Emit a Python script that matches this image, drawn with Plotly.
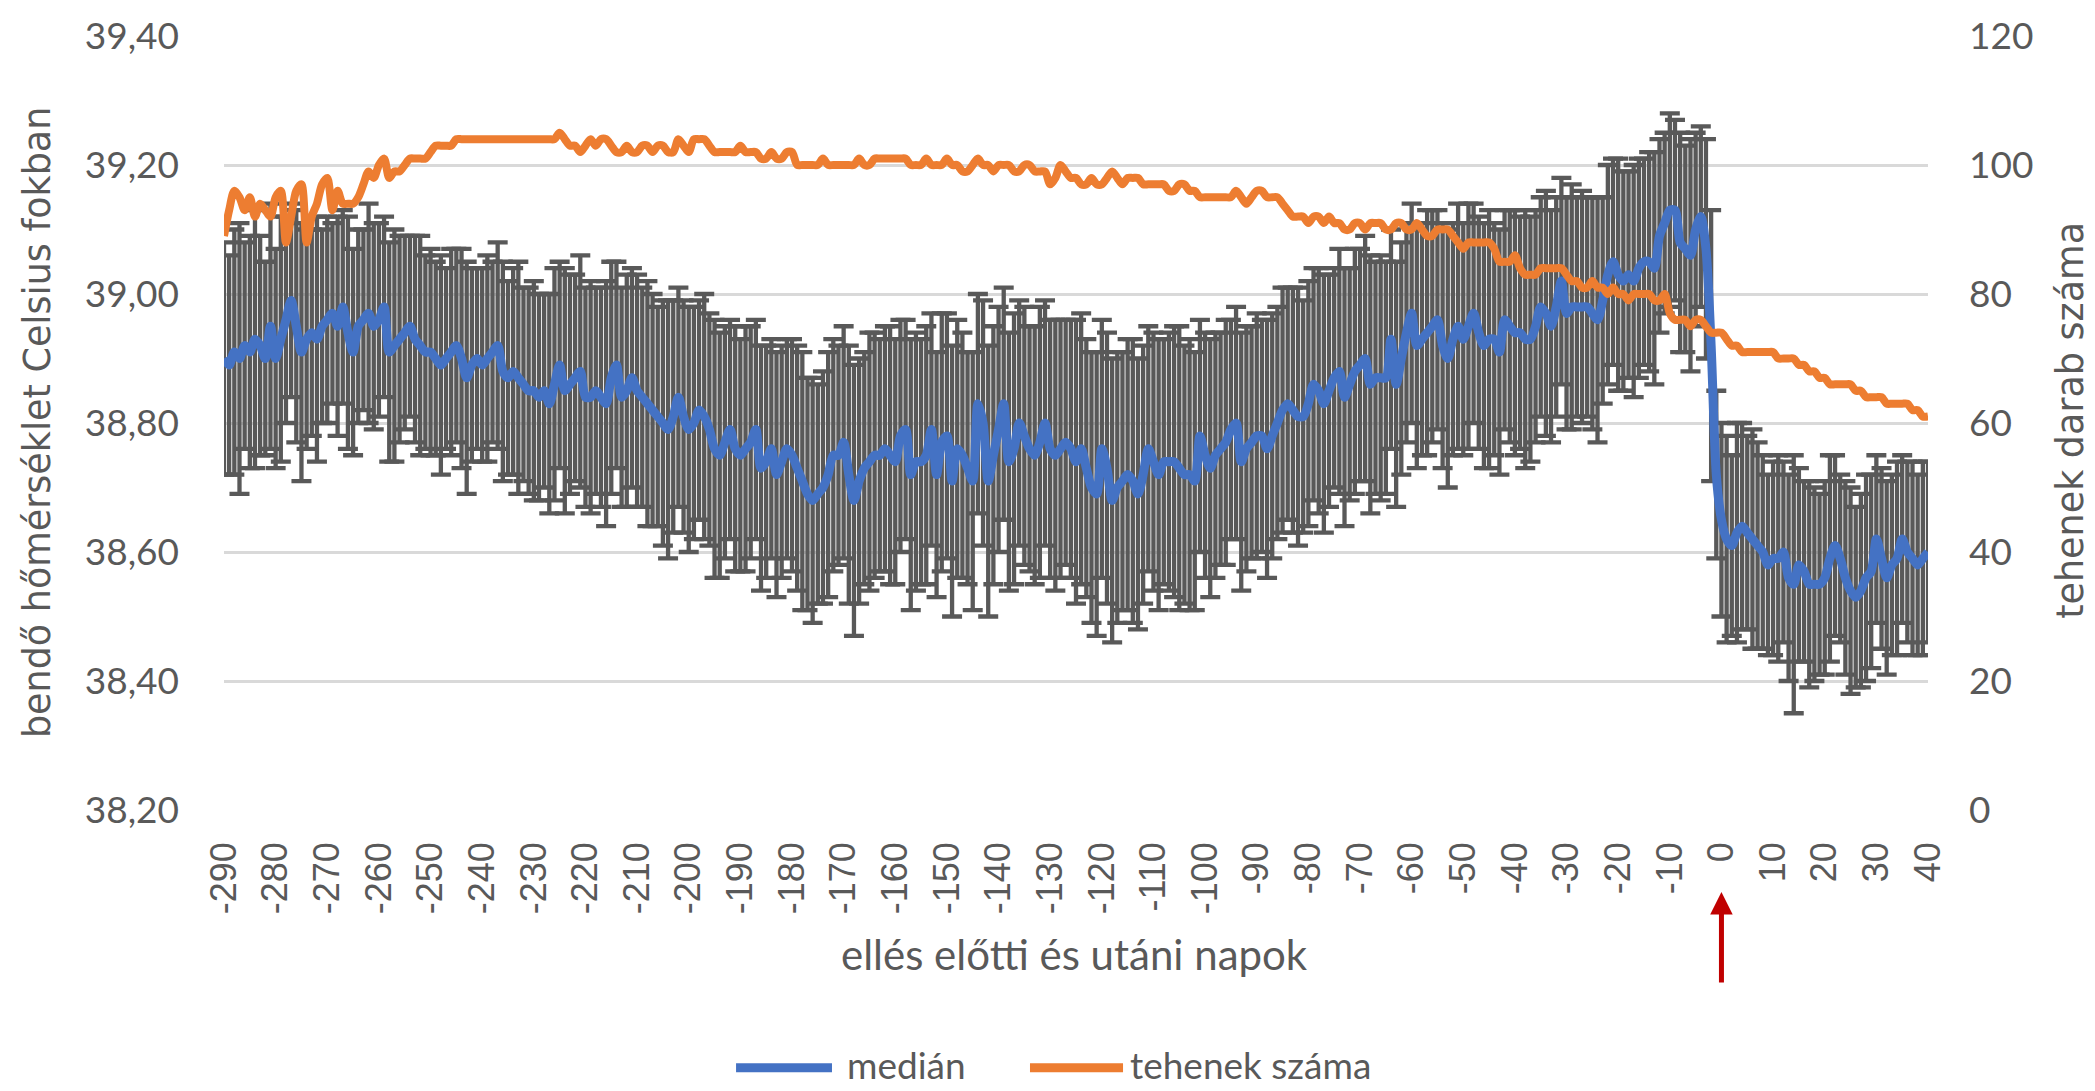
import plotly.graph_objects as go

days = list(range(-290, 41))

median_temp = [
    38.90, 38.89, 38.91, 38.90, 38.92, 38.91, 38.93, 38.92, 38.90, 38.95,
    38.90, 38.93, 38.96, 38.99, 38.95, 38.91, 38.93, 38.94, 38.93, 38.95,
    38.96, 38.97, 38.95, 38.98, 38.94, 38.91, 38.95, 38.96, 38.97, 38.95,
    38.96, 38.98, 38.91, 38.92, 38.93, 38.94, 38.95, 38.93, 38.92, 38.91,
    38.91, 38.90, 38.89, 38.90, 38.91, 38.92, 38.90, 38.87, 38.89, 38.90,
    38.89, 38.90, 38.91, 38.92, 38.88, 38.87, 38.88, 38.87, 38.86, 38.85,
    38.85, 38.84, 38.85, 38.83, 38.86, 38.89, 38.85, 38.86, 38.87, 38.88,
    38.84, 38.84, 38.85, 38.84, 38.83, 38.87, 38.89, 38.84, 38.85, 38.87,
    38.85, 38.84, 38.83, 38.82, 38.81, 38.80, 38.79, 38.81, 38.84, 38.81,
    38.79, 38.80, 38.82, 38.81, 38.79, 38.76, 38.75, 38.77, 38.79, 38.76,
    38.75, 38.76, 38.77, 38.79, 38.73, 38.74, 38.76, 38.72, 38.74, 38.76,
    38.75, 38.73, 38.71, 38.69, 38.68, 38.69, 38.70, 38.72, 38.75, 38.75,
    38.77, 38.72, 38.68, 38.71, 38.73, 38.74, 38.75, 38.75, 38.76, 38.75,
    38.74, 38.78, 38.79, 38.72, 38.74, 38.74, 38.75, 38.79, 38.72, 38.77,
    38.78, 38.71, 38.76, 38.75, 38.73, 38.71, 38.83, 38.80, 38.71, 38.75,
    38.79, 38.83, 38.74, 38.76, 38.80, 38.78, 38.76, 38.75, 38.77, 38.80,
    38.76, 38.75, 38.76, 38.77, 38.76, 38.74, 38.76, 38.73, 38.70, 38.69,
    38.76, 38.73, 38.68, 38.70, 38.71, 38.72, 38.71, 38.69, 38.72, 38.76,
    38.74, 38.72, 38.74, 38.74, 38.74, 38.73, 38.72, 38.72, 38.71, 38.78,
    38.75, 38.73, 38.75, 38.76, 38.77, 38.79, 38.80, 38.74, 38.76, 38.77,
    38.78, 38.78, 38.76, 38.78, 38.80, 38.82, 38.83, 38.82, 38.81, 38.81,
    38.83, 38.86, 38.85, 38.83, 38.85, 38.87, 38.88, 38.84, 38.86, 38.88,
    38.89, 38.90, 38.86, 38.87, 38.87, 38.87, 38.93, 38.86, 38.90, 38.94,
    38.97, 38.92, 38.93, 38.94, 38.95, 38.96, 38.92, 38.90, 38.93, 38.95,
    38.93, 38.95, 38.97, 38.94, 38.92, 38.93, 38.93, 38.91, 38.96, 38.95,
    38.94, 38.94, 38.93, 38.93, 38.95, 38.98, 38.97, 38.95, 38.98, 39.02,
    38.97, 38.98, 38.98, 38.98, 38.98, 38.97, 38.96, 38.99, 39.03, 39.05,
    39.03, 39.02, 39.03, 39.02, 39.04, 39.05, 39.05, 39.04, 39.09, 39.11,
    39.13, 39.13, 39.08, 39.07, 39.06, 39.10, 39.12, 39.07, 38.92, 38.72,
    38.65, 38.62, 38.61, 38.63, 38.64, 38.63, 38.62, 38.61, 38.60, 38.58,
    38.59, 38.59, 38.60, 38.56, 38.55, 38.58, 38.57, 38.55, 38.55, 38.55,
    38.56, 38.59, 38.61, 38.59, 38.56, 38.54, 38.53, 38.54, 38.56, 38.57,
    38.62, 38.59, 38.56, 38.58, 38.59, 38.62, 38.60, 38.59, 38.58, 38.59, 38.60,
]

temp_error = [
    0.18, 0.17, 0.19, 0.21, 0.16, 0.18, 0.20, 0.17, 0.15, 0.19,
    0.17, 0.19, 0.16, 0.15, 0.18, 0.20, 0.17, 0.16, 0.19, 0.15,
    0.16, 0.14, 0.17, 0.15, 0.18, 0.16, 0.15, 0.14, 0.17, 0.16,
    0.15, 0.14, 0.17, 0.18, 0.16, 0.15, 0.14, 0.16, 0.17, 0.15,
    0.16, 0.15, 0.17, 0.14, 0.16, 0.15, 0.17, 0.18, 0.15, 0.14,
    0.15, 0.16, 0.14, 0.16, 0.17, 0.15, 0.16, 0.18, 0.15, 0.16,
    0.17, 0.16, 0.15, 0.17, 0.18, 0.16, 0.19, 0.17, 0.16, 0.18,
    0.17, 0.18, 0.16, 0.17, 0.19, 0.18, 0.16, 0.17, 0.18, 0.17,
    0.18, 0.17, 0.19, 0.18, 0.17, 0.19, 0.20, 0.18, 0.17, 0.18,
    0.19, 0.18, 0.17, 0.19, 0.18, 0.20, 0.19, 0.18, 0.17, 0.19,
    0.18, 0.19, 0.18, 0.17, 0.19, 0.18, 0.17, 0.19, 0.18, 0.17,
    0.18, 0.19, 0.20, 0.18, 0.19, 0.17, 0.18, 0.19, 0.18, 0.17,
    0.18, 0.20, 0.21, 0.19, 0.18, 0.20, 0.19, 0.18, 0.19, 0.20,
    0.19, 0.18, 0.17, 0.21, 0.20, 0.19, 0.20, 0.18, 0.19, 0.20,
    0.19, 0.21, 0.20, 0.19, 0.18, 0.20, 0.17, 0.19, 0.21, 0.20,
    0.19, 0.18, 0.20, 0.21, 0.19, 0.20, 0.19, 0.20, 0.21, 0.19,
    0.20, 0.21, 0.20, 0.19, 0.20, 0.22, 0.21, 0.20, 0.21, 0.22,
    0.20, 0.21, 0.22, 0.21, 0.20, 0.21, 0.22, 0.21, 0.20, 0.19,
    0.20, 0.21, 0.19, 0.20, 0.21, 0.22, 0.20, 0.21, 0.20, 0.18,
    0.19, 0.20, 0.19, 0.18, 0.19, 0.17, 0.18, 0.20, 0.19, 0.18,
    0.19, 0.18, 0.20, 0.19, 0.18, 0.19, 0.18, 0.19, 0.20, 0.18,
    0.19, 0.18, 0.19, 0.20, 0.18, 0.17, 0.19, 0.20, 0.18, 0.19,
    0.18, 0.19, 0.20, 0.18, 0.19, 0.18, 0.17, 0.19, 0.18, 0.17,
    0.17, 0.19, 0.18, 0.19, 0.18, 0.17, 0.19, 0.20, 0.18, 0.19,
    0.18, 0.19, 0.17, 0.18, 0.19, 0.20, 0.18, 0.19, 0.17, 0.18,
    0.19, 0.18, 0.20, 0.19, 0.18, 0.17, 0.19, 0.18, 0.17, 0.16,
    0.18, 0.19, 0.17, 0.18, 0.17, 0.18, 0.19, 0.16, 0.17, 0.16,
    0.18, 0.17, 0.16, 0.18, 0.17, 0.16, 0.17, 0.18, 0.15, 0.14,
    0.15, 0.14, 0.17, 0.16, 0.18, 0.15, 0.14, 0.17, 0.21, 0.13,
    0.15, 0.16, 0.14, 0.17, 0.16, 0.15, 0.17, 0.16, 0.15, 0.14,
    0.15, 0.16, 0.14, 0.16, 0.20, 0.15, 0.14, 0.16, 0.15, 0.14,
    0.15, 0.16, 0.14, 0.13, 0.15, 0.16, 0.14, 0.15, 0.16, 0.15,
    0.13, 0.14, 0.15, 0.14, 0.15, 0.13, 0.14, 0.15, 0.14, 0.15, 0.14,
]

cow_count = [
    89, 93, 96, 95, 93, 95, 92, 94, 93, 92,
    95, 96, 88, 92, 96, 97, 88, 92, 94, 97,
    98, 93, 96, 94, 94, 94, 95, 97, 99, 98,
    100, 101, 98, 99, 99, 100, 101, 101, 101, 101,
    102, 103, 103, 103, 103, 104, 104, 104, 104, 104,
    104, 104, 104, 104, 104, 104, 104, 104, 104, 104,
    104, 104, 104, 104, 104, 105, 104, 103, 103, 102,
    103, 104, 103, 104, 104, 103, 102, 102, 103, 102,
    102, 103, 103, 102, 103, 103, 102, 102, 104, 103,
    102, 104, 104, 104, 103, 102, 102, 102, 102, 102,
    103, 102, 102, 102, 101, 101, 102, 101, 101, 102,
    102, 100, 100, 100, 100, 100, 101, 100, 100, 100,
    100, 100, 100, 101, 100, 100, 101, 101, 101, 101,
    101, 101, 101, 100, 100, 100, 101, 100, 100, 100,
    101, 100, 100, 99, 99, 100, 101, 100, 100, 99,
    100, 100, 100, 99, 99, 100, 100, 99, 99, 99,
    97, 98, 100, 99, 98, 98, 97, 97, 98, 97,
    97, 98, 99, 98, 97, 98, 98, 98, 97, 97,
    97, 97, 97, 96, 96, 97, 97, 96, 96, 95,
    95, 95, 95, 95, 95, 95, 96, 95, 94, 95,
    96, 96, 95, 95, 95, 94, 93, 92, 92, 92,
    91, 92, 92, 91, 92, 91, 91, 90, 90, 91,
    91, 90, 91, 91, 91, 90, 90, 91, 91, 90,
    90, 91, 90, 89, 89, 90, 90, 90, 89, 88,
    87, 88, 88, 88, 88, 88, 87, 85, 85, 85,
    86, 84, 83, 83, 83, 84, 84, 84, 84, 84,
    83, 82, 82, 81, 81, 82, 81, 81, 80, 81,
    80, 80, 79, 80, 80, 80, 80, 79, 79, 80,
    77, 76, 76, 76, 75, 76, 76, 75, 74, 74,
    74, 73, 72, 72, 71, 71, 71, 71, 71, 71,
    71, 70, 70, 70, 70, 69, 69, 68, 68, 67,
    67, 66, 66, 66, 66, 66, 65, 65, 64, 64,
    64, 64, 63, 63, 63, 63, 63, 62, 62, 61, 61,
]

x_ticks = list(range(-290, 41, 10))
left_ticks = [38.2, 38.4, 38.6, 38.8, 39.0, 39.2, 39.4]
right_ticks = [0, 20, 40, 60, 80, 100, 120]
series_names = ["medián", "tehenek száma"]

TXT = "#595959"
BLUE = "#4472C4"
ORANGE = "#ED7D31"
TICKFONT = "Lato, 'Open Sans', sans-serif"
TITLEFONT = "'DejaVu Sans', Verdana, sans-serif"

fig = go.Figure()

# error bars (drawn underneath the median line)
fig.add_trace(go.Scatter(
    x=days, y=median_temp, mode="markers",
    marker=dict(size=1, opacity=0, color="#595959"),
    error_y=dict(type="data", array=temp_error, visible=True,
                 color="#595959", thickness=4.3, width=10),
    showlegend=False, hoverinfo="skip",
))

fig.add_trace(go.Scatter(
    x=days, y=median_temp, mode="lines", name=series_names[0],
    line=dict(color=BLUE, width=9, shape="spline", smoothing=0.8),
    showlegend=False,
))

fig.add_trace(go.Scatter(
    x=days, y=cow_count, mode="lines", name=series_names[1], yaxis="y2",
    line=dict(color=ORANGE, width=8, shape="spline", smoothing=0.8),
    showlegend=False,
))

fig.update_layout(
    width=2095, height=1091, autosize=False,
    margin=dict(l=224, r=167, t=29, b=281),
    paper_bgcolor="white", plot_bgcolor="white",
    separators=", ",
    font=dict(family=TICKFONT, color=TXT, size=36),
    xaxis=dict(
        range=[-290, 40], tickmode="array", tickvals=x_ticks,
        ticktext=[str(v) for v in x_ticks], tickangle=-90,
        tickfont=dict(family="'Liberation Sans', Arial, sans-serif", size=36, color=TXT),
        showgrid=False, zeroline=False, showline=False, ticks="",
        ticklabelstandoff=24,
    ),
    yaxis=dict(
        range=[38.2, 39.4], tickmode="array", tickvals=left_ticks,
        tickformat=".2f", showgrid=True, gridcolor="#D9D9D9", gridwidth=3,
        zeroline=False, showline=False, ticks="",
        tickfont=dict(family=TICKFONT, size=37, color=TXT),
        ticklabelstandoff=44,
    ),
    yaxis2=dict(
        range=[0, 120], tickmode="array", tickvals=right_ticks,
        overlaying="y", side="right", showgrid=False, zeroline=False,
        showline=False, ticks="",
        tickfont=dict(family=TICKFONT, size=37, color=TXT),
        ticklabelstandoff=40,
    ),
    showlegend=False,
)

fig.add_annotation(
    text="bendő hőmérséklet Celsius fokban", xref="paper", yref="paper",
    x=-0.1097, y=0.5, xanchor="center", yanchor="middle", textangle=-90,
    showarrow=False, font=dict(family=TITLEFONT, size=36.5, color=TXT),
)
fig.add_annotation(
    text="tehenek darab száma", xref="paper", yref="paper",
    x=1.084, y=0.503, xanchor="center", yanchor="middle", textangle=-90,
    showarrow=False, font=dict(family=TITLEFONT, size=36.5, color=TXT),
)
fig.add_annotation(
    text="ellés előtti és utáni napok", xref="paper", yref="paper",
    x=0.4994, y=-0.1857, xanchor="center", yanchor="middle",
    showarrow=False, font=dict(family=TICKFONT, size=42, color=TXT),
)

# legend (drawn as layout items so the swatches are as long as in the original)
LEG_Y = -0.329
for (x0, x1, tx), color, label in zip(
        [(0.3005, 0.3568, 0.3650), (0.4730, 0.5276, 0.5311)],
        [BLUE, ORANGE], series_names):
    fig.add_shape(type="line", xref="paper", yref="paper",
                  x0=x0, x1=x1, y0=LEG_Y - 0.004, y1=LEG_Y - 0.004,
                  line=dict(color=color, width=9))
    fig.add_annotation(text=label, xref="paper", yref="paper",
                       x=tx, y=LEG_Y, xanchor="left", yanchor="middle",
                       showarrow=False, borderpad=0,
                       font=dict(family=TICKFONT, size=37, color=TXT))

# red arrow marking calving day (x = 0)
fig.add_annotation(
    x=0, y=-0.106, xref="x", yref="paper", text="", showarrow=True,
    ax=0, ay=92, axref="pixel", ayref="pixel",
    arrowhead=2, arrowsize=0.9, arrowwidth=5, arrowcolor="#C00000",
)

fig.write_html("out.html", config={"displayModeBar": False},
               post_script="document.body.style.margin='0';")
